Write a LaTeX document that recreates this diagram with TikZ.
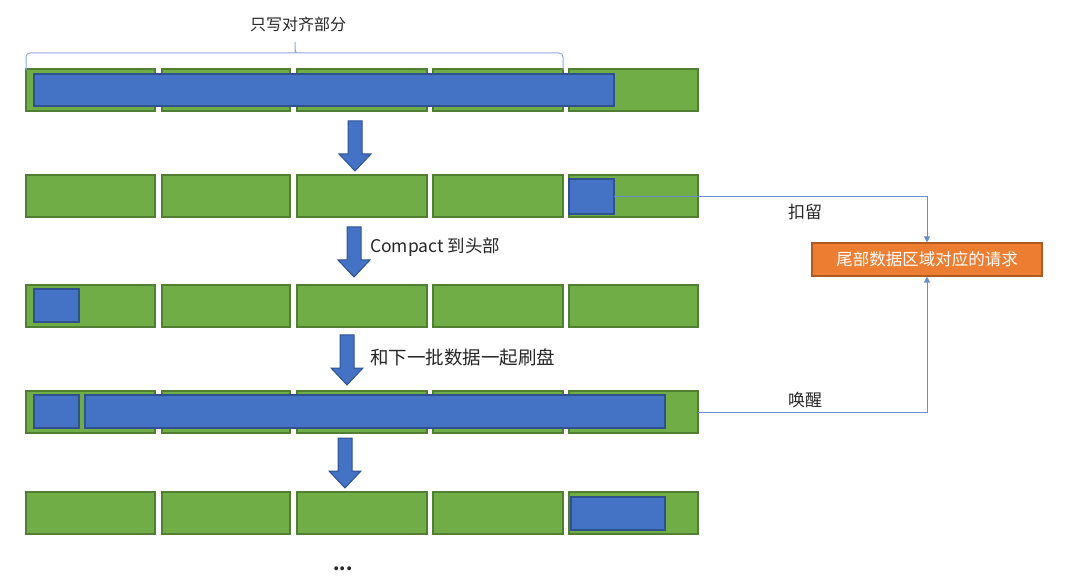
\documentclass[tikz,border=0pt]{standalone}
\usepackage{fontspec}
\setmainfont{Noto Sans CJK SC}
\usetikzlibrary{arrows.meta}
\definecolor{gfill}{HTML}{70AD47}
\definecolor{gline}{HTML}{507E32}
\definecolor{bfill}{HTML}{4472C4}
\definecolor{bline}{HTML}{2F528F}
\definecolor{ofill}{HTML}{ED7D31}
\definecolor{oline}{HTML}{AE5A21}
\definecolor{lblue}{HTML}{8FAADC}
\definecolor{txt}{HTML}{262626}
\tikzset{
  gbox/.style={draw=gline, fill=gfill, line width=1.1pt, inner sep=0pt, outer sep=0pt, anchor=north west},
  bbox/.style={draw=bline, fill=bfill, line width=1.2pt, inner sep=0pt, outer sep=0pt, anchor=north west},
  obox/.style={draw=oline, fill=ofill, line width=1.1pt, inner sep=0pt, text=white, font=\fontsize{16.5}{18}\selectfont},
  lbl/.style={text=txt, inner sep=0pt, font=\fontsize{17}{20}\selectfont},
  conn/.style={draw=bfill!80!white, line width=0.9pt, -{Triangle[length=6pt,width=6pt]}},
  bracestyle/.style={draw=lblue, line width=1pt},
  barrow/.pic={\draw[draw=bline, fill=bfill, line width=1pt] (-7,0) -- (7,0) -- (7,33) -- (16,33) -- (0,50) -- (-16,33) -- (-7,33) -- cycle;}
}
\newcommand\gb[5]{\node[gbox, minimum width=#4pt, minimum height=#5pt] (#1) at (#2,#3) {};}
\newcommand\bb[5]{\node[bbox, minimum width=#4pt, minimum height=#5pt] (#1) at (#2,#3) {};}
\newcommand\grow[2]{%
  \gb{#1a}{26}{#2}{129}{42}
  \gb{#1b}{162}{#2}{128}{42}
  \gb{#1c}{297}{#2}{130}{42}
  \gb{#1d}{433}{#2}{130}{42}
  \gb{#1e}{569}{#2}{129}{42}}
\begin{document}
\begin{tikzpicture}[x=1pt, y=-1pt]
\useasboundingbox (0,0) rectangle (1080,588);
% rows
\grow{ra}{69}
\grow{rb}{175}
\grow{rc}{285}
\grow{rd}{391}
\grow{re}{492}
% blue data blocks
\bb{ba}{34}{74}{580}{32}
\bb{bb}{569}{179}{45}{35}
\bb{bc}{34}{289}{45}{33}
\bb{bd1}{34}{395}{45}{33}
\bb{bd2}{85}{395}{580}{33}
\bb{be}{571}{497}{94}{33}
% brace
\draw[bracestyle] (26,70) [rounded corners=4pt] |- (291,53) [sharp corners] .. controls (295,53) .. (295,42) .. controls (295,53) .. (299,53) [rounded corners=4pt] -| (563,70);
\node[lbl, font=\fontsize{16}{18}\selectfont] (t1) at (298,24) {只写对齐部分};
% block arrows
\pic at (355,121) {barrow};
\pic at (354,227) {barrow};
\pic at (347,335) {barrow};
\pic at (345,438) {barrow};
\node[lbl, anchor=west, font=\fontsize{17.5}{20}\selectfont] (t2) at (370,247) {Compact 到头部};
\node[lbl, anchor=west, font=\fontsize{18.5}{20}\selectfont] (t3) at (370,357) {和下一批数据一起刷盘};
% request box
\node[obox, minimum width=230pt, minimum height=33pt] (req) at (927,259.5) {尾部数据区域对应的请求};
\draw[conn] (bb.east) -| (req.north);
\draw[conn] (rde.east) -| (req.south);
\node[lbl] (t4) at (805,212) {扣留};
\node[lbl] (t5) at (805,400) {唤醒};
\node[lbl, font=\fontsize{18}{20}\selectfont\bfseries] (dots) at (343,569) {...};
\end{tikzpicture}
\end{document}
